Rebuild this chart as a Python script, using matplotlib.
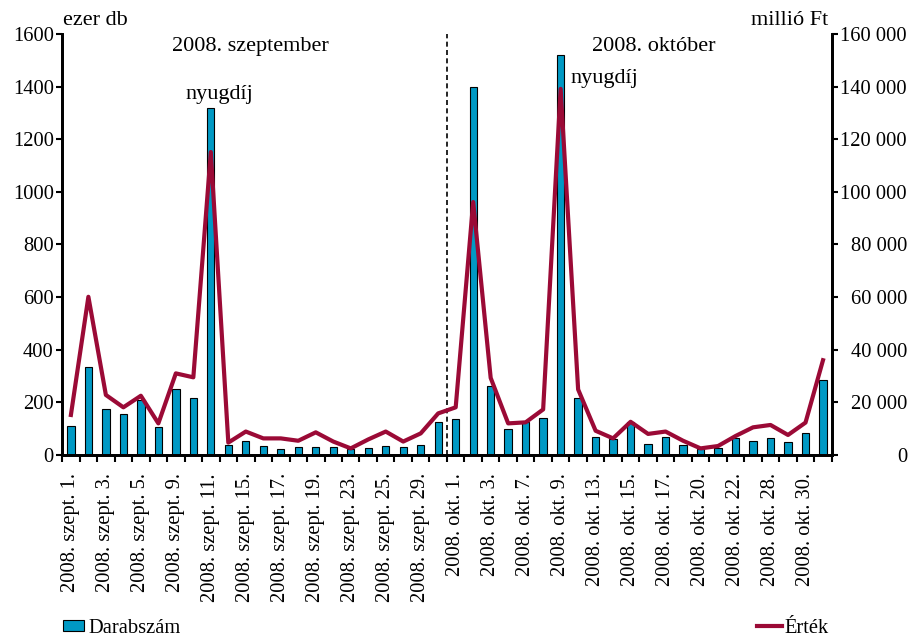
import numpy as np
import matplotlib.pyplot as plt
from matplotlib.ticker import FuncFormatter
from matplotlib.patches import Patch
from matplotlib.lines import Line2D

plt.rcParams['font.family'] = ['Liberation Serif', 'DejaVu Serif']

sept_days = [1, 2, 3, 4, 5, 8, 9, 10, 11, 12, 15, 16, 17, 18, 19, 22, 23, 24, 25, 26, 29, 30]
oct_days = [1, 2, 3, 6, 7, 8, 9, 10, 13, 14, 15, 16, 17, 18, 20, 21, 22, 27, 28, 29, 30, 31]
labels = [f"2008. szept. {d}." for d in sept_days] + [f"2008. okt. {d}." for d in oct_days]

# darabszám, ezer db
darab = [110, 335, 173, 156, 209, 106, 249, 218, 1318, 38, 54, 34, 24, 30, 29, 30, 21, 25, 35, 29, 39, 125,
         135, 1400, 262, 97, 127, 139, 1518, 215, 67, 59, 127, 40, 70, 38, 22, 25, 63, 54, 63, 51, 85, 285]
# érték, millió Ft
ertek = [15200, 60100, 22800, 18100, 22500, 12000, 31000, 29500, 115100, 4700, 8900, 6300, 6300, 5400,
         8600, 5100, 2500, 5900, 8900, 5100, 8200, 15800,
         18100, 96100, 29300, 12000, 12400, 17300, 139100, 24900, 9200, 6300, 12600, 8000, 8900, 5400,
         2500, 3400, 7200, 10500, 11400, 7600, 12300, 36000]

bar_color = '#0099c4'
line_color = '#9b0a36'
fs = 14.8
fs_text = 16

x = np.arange(len(labels))

fig = plt.figure(figsize=(9.14, 6.39), dpi=100)
ax = fig.add_axes([0.068, 0.288, 0.842, 0.659])
ax2 = ax.twinx()

ax.bar(x, darab, width=0.42, color=bar_color, edgecolor='black', linewidth=0.8, zorder=2)
ax2.plot(x, ertek, color=line_color, linewidth=3, zorder=3)

ax.set_xlim(-0.5, len(x) - 0.5)
ax.set_ylim(0, 1600)
ax2.set_ylim(0, 160000)
ax.set_yticks(np.arange(0, 1601, 200))
ax2.set_yticks(np.arange(0, 160001, 20000))
ax2.yaxis.set_major_formatter(FuncFormatter(lambda v, p: f"{int(v):,}".replace(',', ' ')))

# ticks at category boundaries, labels on every second category
ax.set_xticks(np.arange(-0.5, len(x), 1))
ax.set_xticklabels([])
ax.set_xticks(x[::2], minor=True)
ax.set_xticklabels(labels[::2], minor=True, rotation=90, fontsize=fs)
ax.tick_params(axis='x', which='major', direction='out', length=5, width=1.5)
ax.tick_params(axis='x', which='minor', length=0, pad=13)
ax.tick_params(axis='y', direction='out', length=4, width=1.5, labelsize=fs, pad=2)
ax2.tick_params(axis='y', direction='out', length=4, width=1.5, labelsize=fs, pad=2)
for lab in ax2.get_yticklabels():
    lab.set_horizontalalignment('right')
    lab.set_x(1.087)

for a in (ax, ax2):
    a.spines['top'].set_visible(False)
    a.spines['left'].set_linewidth(2)
    a.spines['right'].set_linewidth(2)
    a.spines['bottom'].set_linewidth(2)

ax.axvline(21.5, color='black', linestyle=(0, (3, 2)), linewidth=1.2, zorder=1)

ax.text(10.25, 1551, '2008. szeptember', ha='center', va='center', fontsize=fs_text)
ax.text(33.3, 1551, '2008. október', ha='center', va='center', fontsize=fs_text)
ax.text(8.5, 1368, 'nyugdíj', ha='center', va='center', fontsize=fs_text)
ax.text(28.55, 1429, 'nyugdíj', ha='left', va='center', fontsize=fs_text)

fig.text(0.069, 0.968, 'ezer db', ha='left', va='center', fontsize=fs_text)
fig.text(0.906, 0.968, 'millió Ft', ha='right', va='center', fontsize=fs_text)

fig.legend(handles=[Patch(facecolor=bar_color, edgecolor='black', linewidth=0.8)], labels=['Darabszám'],
           loc='center left', bbox_to_anchor=(0.069, 0.017), frameon=False, fontsize=fs,
           borderpad=0, borderaxespad=0,
           handlelength=1.0, handleheight=0.45, handletextpad=0.25)
fig.legend(handles=[Line2D([], [], color=line_color, linewidth=3)], labels=['Érték'],
           loc='center right', bbox_to_anchor=(0.907, 0.017), frameon=False, fontsize=fs,
           borderpad=0, borderaxespad=0,
           handlelength=1.2, handletextpad=0.15)

fig.savefig('out.png', dpi=100)
